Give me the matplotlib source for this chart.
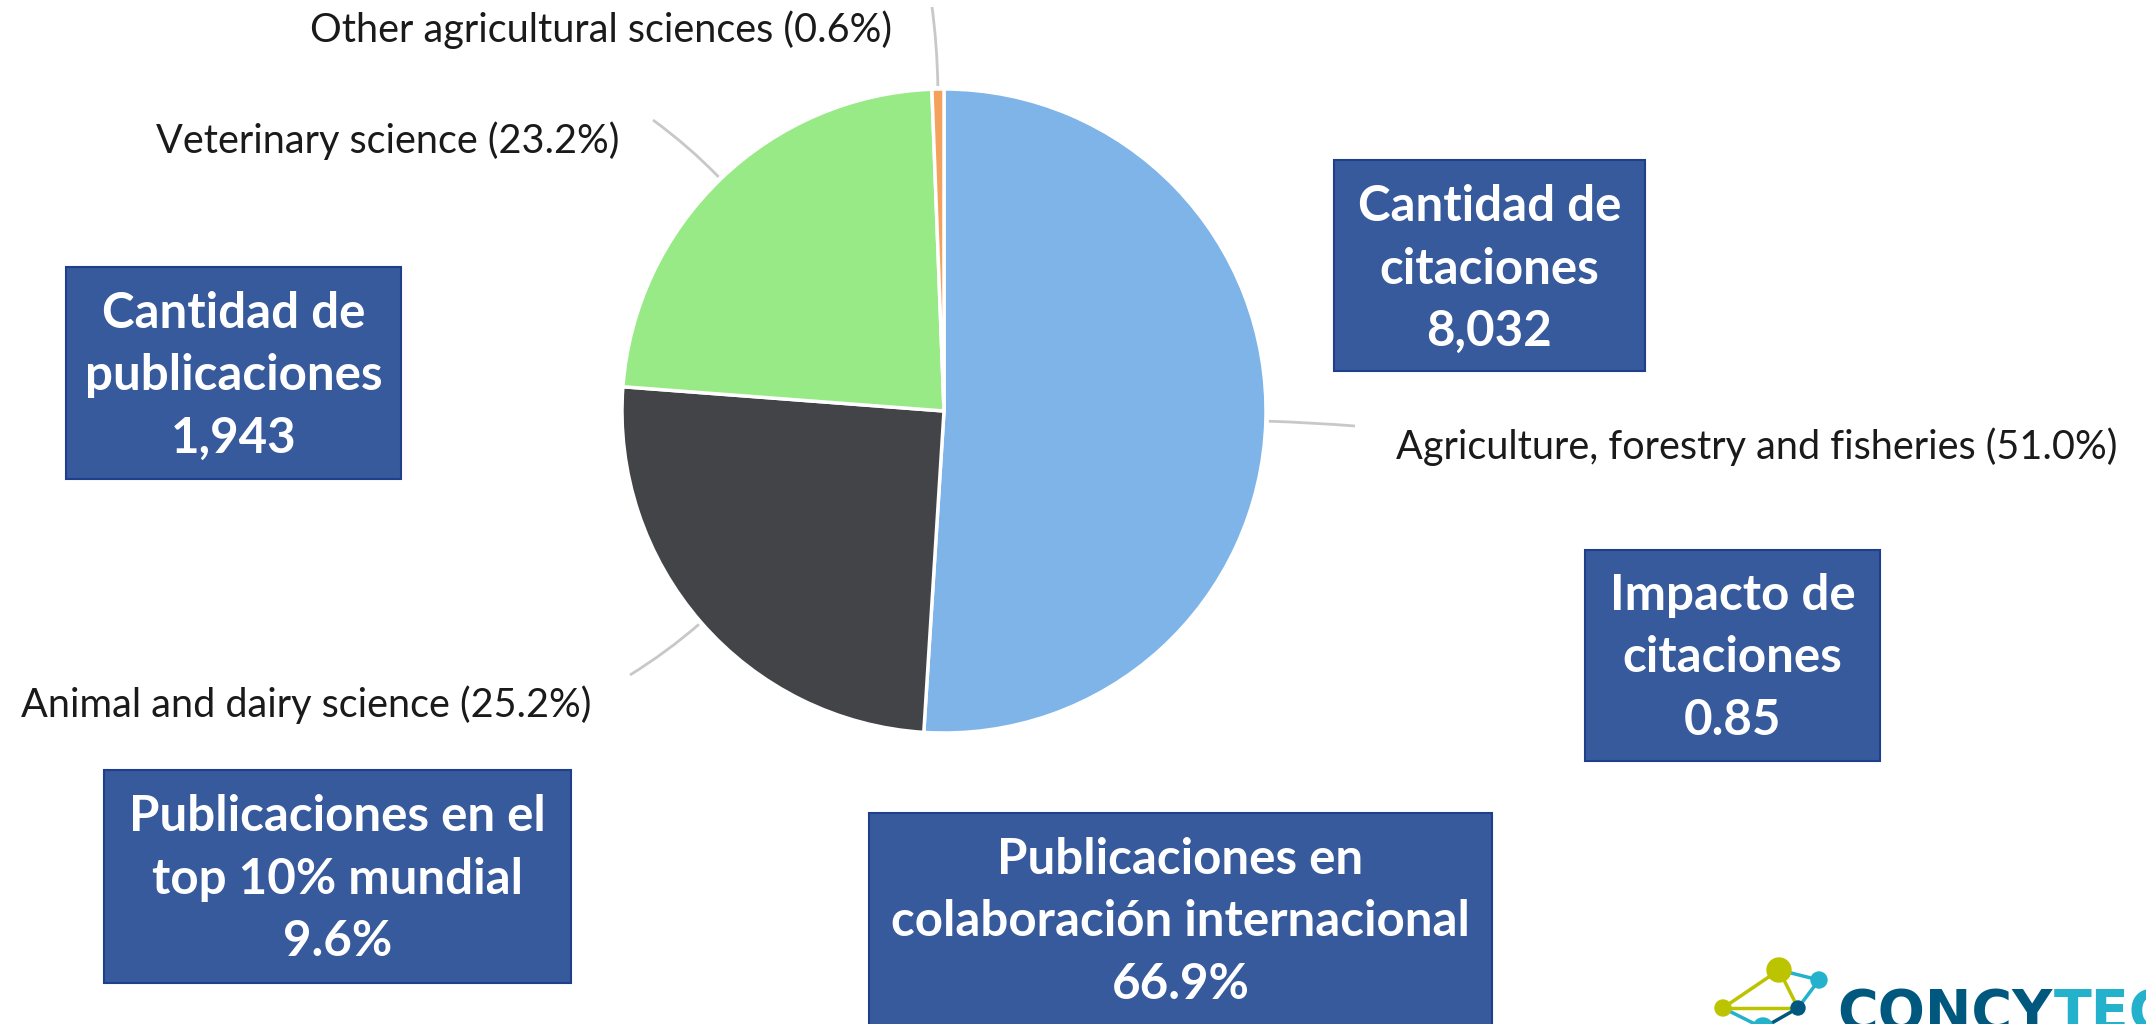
import matplotlib
matplotlib.use('Agg')
import matplotlib.pyplot as plt
import numpy as np
from matplotlib.path import Path
from matplotlib.patches import PathPatch, Circle, Rectangle

# datos del grafico
categorias = ['Agriculture, forestry and fisheries', 'Animal and dairy science',
              'Veterinary science', 'Other agricultural sciences']
porcentajes = [51.0, 25.2, 23.2, 0.6]
colores = ['#7FB4E8', '#434448', '#97EA86', '#F5A15E']

indicadores = ['Cantidad de\npublicaciones', 'Cantidad de\ncitaciones', 'Impacto de\ncitaciones',
               'Publicaciones en el\ntop 10% mundial', 'Publicaciones en\ncolaboración internacional']
valores = ['1,943', '8,032', '0.85', '9.6%', '66.9%']

W, H = 2146, 1024
fig = plt.figure(figsize=(W / 100, H / 100), dpi=100)
ax = fig.add_axes([0, 0, 1, 1])

cx, cy, R = 944, H - 411, 322
wedges, _ = ax.pie(porcentajes, colors=colores, startangle=90, counterclock=False,
                   center=(cx, cy), radius=R,
                   wedgeprops=dict(edgecolor='white', linewidth=2.5))

ax.set_xlim(0, W)
ax.set_ylim(0, H)
ax.set_aspect('equal')
ax.axis('off')

# etiquetas con lineas guia (posiciones en pixeles, y desde arriba)
fin_linea = [(1355, 426), (630, 675), (653, 120), (932, 7)]
pos_texto = [(1396, 447, 'left'), (591, 705, 'right'), (619, 141, 'right'), (892, 30, 'right')]

for w, nombre, p, (ex, ey), (tx, ty, ha) in zip(wedges, categorias, porcentajes, fin_linea, pos_texto):
    ang = np.deg2rad((w.theta1 + w.theta2) / 2)
    x0, y0 = cx + (R + 3) * np.cos(ang), cy + (R + 3) * np.sin(ang)
    x1, y1 = cx + (R + 45) * np.cos(ang), cy + (R + 45) * np.sin(ang)
    camino = Path([(x0, y0), (x1, y1), (ex, H - ey)], [Path.MOVETO, Path.CURVE3, Path.CURVE3])
    ax.add_patch(PathPatch(camino, fc='none', ec='#C8C8C8', lw=2))
    ax.text(tx, H - ty, f'{nombre} ({p:.1f}%)', ha=ha, va='center',
            fontsize=28.5, family=['Lato', 'DejaVu Sans'], color='#1a1a1a')

# cuadros de indicadores: x0, x1, y0, y1 en pixeles
cajas = [(66, 401, 267, 479), (1334, 1645, 160, 371), (1585, 1880, 550, 761),
         (104, 571, 770, 983), (869, 1492, 813, 1035)]
centros_y = [376, 269, 658, 879, 922]

for (bx0, bx1, by0, by1), ind, val, ty in zip(cajas, indicadores, valores, centros_y):
    ax.add_patch(Rectangle((bx0, H - by1), bx1 - bx0, by1 - by0,
                           fc='#375A9C', ec='#1F3E8C', lw=1.5, clip_on=False))
    ax.text((bx0 + bx1) / 2, H - ty, f'{ind}\n{val}', ha='center', va='center',
            fontsize=35.5, fontweight='bold', color='white', linespacing=1.47,
            family=['Lato', 'DejaVu Sans'])

# logo CONCYTEC (esquina inferior derecha)
verde, cian, azul = '#BCC400', '#24B1CB', '#00587F'
nodos = {'a': (1779, 970, 12, verde), 'b': (1819, 980, 8, cian), 'c': (1723, 1008, 8, verde),
         'd': (1798, 1008, 7, azul), 'e': (1763, 1028, 10, cian)}
enlaces = [('a', 'c', verde), ('c', 'd', verde), ('a', 'd', verde), ('a', 'b', cian),
           ('b', 'd', cian), ('c', 'e', cian), ('d', 'e', azul)]
for n1, n2, col in enlaces:
    ax.plot([nodos[n1][0], nodos[n2][0]], [H - nodos[n1][1], H - nodos[n2][1]],
            color=col, lw=2.5, solid_capstyle='round', zorder=5)
for x, y, r, col in nodos.values():
    ax.add_patch(Circle((x, H - y), r, color=col, zorder=6))

t1 = ax.text(1837, H - 987, 'CONCY', ha='left', va='top', fontsize=40,
             fontweight='bold', color=azul, family='DejaVu Sans')
fig.canvas.draw()
bb = t1.get_window_extent()
ax.text(bb.x1 + 2, H - 987, 'TEC', ha='left', va='top', fontsize=40,
        fontweight='bold', color=cian, family='DejaVu Sans')

fig.savefig('out.png', dpi=100, facecolor='white')
